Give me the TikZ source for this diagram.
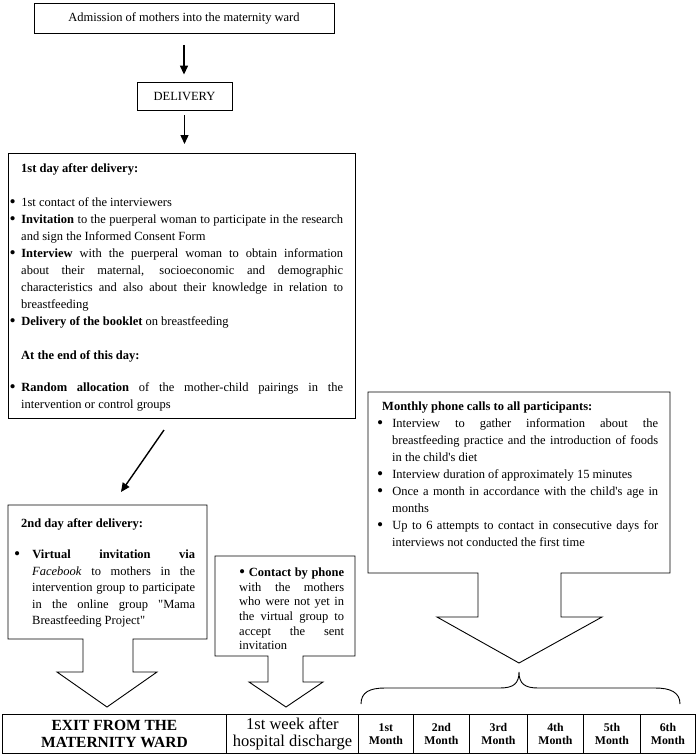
\documentclass[tikz,border=0pt]{standalone}
\usepackage{graphicx}
\usepackage{fontspec}
\setmainfont{Liberation Serif}[Ligatures=TeXOff]
\usetikzlibrary{arrows.meta}
\setlength\parskip{0pt}
\newcommand{\bigbul}{\raisebox{-1.1pt}{\scalebox{1.4}{\textbullet}}}
\newenvironment{blist}[2]{\begin{list}{\bigbul}{\setlength\leftmargin{#1}\setlength\labelwidth{6pt}\setlength\labelsep{#2}\setlength\itemsep{0pt}\setlength\parsep{0pt}\setlength\topsep{0pt}\setlength\partopsep{0pt}\setlength\itemindent{0pt}\setlength\listparindent{0pt}\setlength\rightmargin{0pt}}}{\end{list}}
\begin{document}
\begin{tikzpicture}[x=1pt,y=-1pt,
  every node/.style={font=\fontsize{12.5}{17}\selectfont, inner sep=0pt},
  box/.style={draw, line width=0.9pt},
  callout/.style={draw, line width=0.9pt, line join=miter},
  txt/.style={anchor=north west},
  arr/.style={-{Triangle[length=9pt,width=8pt]}, line width=1.4pt},
  cell/.style={draw, line width=0.9pt, anchor=north west, minimum height=39pt, align=center},
]
\useasboundingbox (0,0) rectangle (697,755);

% top boxes
\node[box, minimum width=300pt, minimum height=30pt] (adm) at (184,18.5) {Admission of mothers into the maternity ward};
\node[box, minimum width=95pt, minimum height=28pt] (deliv) at (184.5,96) {DELIVERY};
\node[box, anchor=north west, minimum width=347pt, minimum height=265pt] (day1) at (8,153) {};

\draw[arr, shorten <=11pt, shorten >=7pt] (adm.south) -- (adm.south |- deliv.north);
\draw[arr, shorten <=5pt, shorten >=9pt] (deliv.south) -- (deliv.south |- day1.north);

\node[txt] (day1t) at (21,163.5) {\begin{minipage}{322pt}\fontsize{12.5}{17}\selectfont
\textbf{1st day after delivery:}\par\vspace{17pt}
\begin{blist}{0pt}{5.5pt}
\item 1st contact of the interviewers
\item \textbf{Invitation} to the puerperal woman to participate in the research\linebreak and sign the Informed Consent Form
\item \textbf{Interview} with the puerperal woman to obtain information\linebreak about their maternal, socioeconomic and demographic\linebreak characteristics and also about their knowledge in relation to\linebreak breastfeeding
\item \textbf{Delivery of the booklet} on breastfeeding
\end{blist}
\vspace{17pt}
\textbf{At the end of this day:}\par\vspace{15pt}
\begin{blist}{0pt}{5.5pt}
\item \textbf{Random allocation} of the mother-child pairings in the\linebreak intervention or control groups
\end{blist}
\end{minipage}};

% diagonal arrow
\coordinate (dA) at (164,430);
\coordinate (dB) at (121,492);
\draw[arr] (dA) -- (dB);

% 2nd day callout
\draw[callout] (8,505) -- (207,505) -- (207,639) -- (133,639) -- (133,672) -- (157,672) -- (107,707) -- (57,672) -- (83,672) -- (83,639) -- (8,639) -- cycle;
\node[txt] (day2t) at (21,518.5) {\begin{minipage}{174pt}\fontsize{12.5}{16.5}\selectfont
\textbf{2nd day after delivery:}\par\vspace{14.5pt}
\begin{blist}{11pt}{12pt}
\item \textbf{Virtual invitation via}\linebreak \textit{Facebook} to mothers in the\linebreak intervention group to participate\linebreak in the online group "Mama\linebreak Breastfeeding Project"
\end{blist}
\end{minipage}};

% phone callout
\draw[callout] (215,556) -- (355,556) -- (355,656) -- (303,656) -- (303,682) -- (323,682) -- (286,707) -- (249,682) -- (268,682) -- (268,656) -- (215,656) -- cycle;
\node[txt] (phonet) at (239,567.5) {\begin{minipage}{105pt}\fontsize{12.5}{14.7}\selectfont
\bigbul\ \textbf{Contact by phone}\linebreak with the mothers\linebreak who were not yet in\linebreak the virtual group to\linebreak accept the sent\linebreak invitation
\end{minipage}};

% monthly callout
\draw[callout] (368,392) -- (670,392) -- (670,573) -- (561,573) -- (561,617) -- (602,617) -- (519,663) -- (437,617) -- (478,617) -- (478,573) -- (368,573) -- cycle;
\node[txt] (montht) at (382,401.5) {\begin{minipage}{276pt}\fontsize{12.5}{17}\selectfont
\textbf{Monthly phone calls to all participants:}\par
\begin{blist}{10pt}{9pt}
\item Interview to gather information about the\linebreak breastfeeding practice and the introduction of foods\linebreak in the child's diet
\item Interview duration of approximately 15 minutes
\item Once a month in accordance with the child's age in\linebreak months
\item Up to 6 attempts to contact in consecutive days for\linebreak interviews not conducted the first time
\end{blist}
\end{minipage}};

% brace
\draw[line width=0.9pt] (361,704) .. controls (361,692) and (370,688) .. (385,688) -- (500,688) .. controls (514,688) and (519,683) .. (519,672) .. controls (519,683) and (524,688) .. (538,688) -- (655,688) .. controls (670,688) and (680,692) .. (680,704);

% bottom table
\node[cell, minimum width=224pt, font=\fontsize{15.5}{17}\selectfont\bfseries] (exit) at (2,714) {EXIT FROM THE\\MATERNITY WARD};
\node[cell, minimum width=132pt, font=\fontsize{16.5}{17}\selectfont] (week) at (226,714) {1st week after\\hospital discharge};
\node[cell, minimum width=55pt, font=\fontsize{11.8}{13}\selectfont\bfseries] (m1) at (358,714) {1st\\Month};
\node[cell, minimum width=56pt, font=\fontsize{11.8}{13}\selectfont\bfseries] (m2) at (413,714) {2nd\\Month};
\node[cell, minimum width=58pt, font=\fontsize{11.8}{13}\selectfont\bfseries] (m3) at (469,714) {3rd\\Month};
\node[cell, minimum width=56pt, font=\fontsize{11.8}{13}\selectfont\bfseries] (m4) at (527,714) {4th\\Month};
\node[cell, minimum width=57pt, font=\fontsize{11.8}{13}\selectfont\bfseries] (m5) at (583,714) {5th\\Month};
\node[cell, minimum width=55pt, font=\fontsize{11.8}{13}\selectfont\bfseries] (m6) at (640,714) {6th\\Month};
\end{tikzpicture}
\end{document}
